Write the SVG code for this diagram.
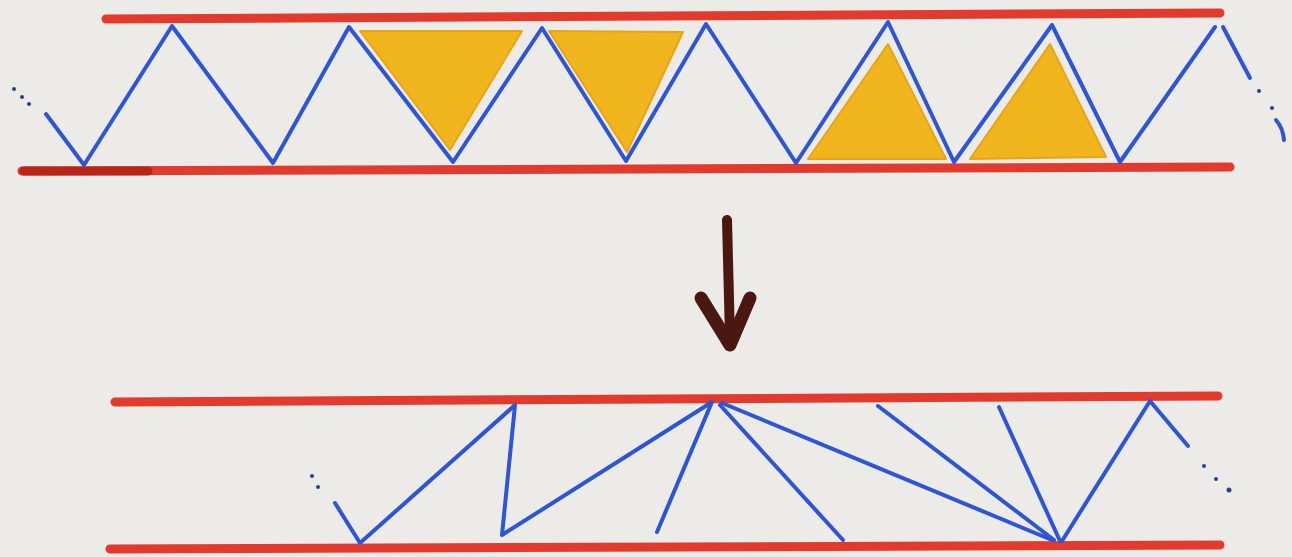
<svg xmlns="http://www.w3.org/2000/svg" width="1292" height="557" viewBox="0 0 1292 557">
<style>
.rail{stroke:#e23a2c;stroke-width:9;stroke-linecap:round;fill:none}
.truss{stroke:#2d55d9;stroke-width:4;stroke-linecap:round;stroke-linejoin:round;fill:none}
.dot{fill:#2a3f9a}
.fill{fill:#f0b51c;stroke:#e9a414;stroke-width:2;stroke-linejoin:round}
.arrow{stroke:#4a1810;stroke-linecap:round;stroke-linejoin:round;fill:none}
</style>
<rect width="1292" height="557" fill="#ecebe8"/>
<g id="top-band">
  <g id="top-fills">
    <polygon class="fill" points="360,31 522,31 450,150"/>
    <polygon class="fill" points="549,31 683,32 627,152"/>
    <polygon class="fill" points="888,44 946,159 808,159"/>
    <polygon class="fill" points="1050,44 1106,157 970,159"/>
  </g>
  <g id="top-rails">
    <line class="rail" x1="106" y1="19" x2="1220" y2="13"/>
    <line class="rail" x1="22" y1="171" x2="1230" y2="167"/>
    <line x1="24" y1="171" x2="148" y2="171" stroke="#b82519" stroke-width="9" stroke-linecap="round"/>
  </g>
  <g id="top-truss">
    <polyline class="truss" points="46,114 84,165 172,26 273,163 349,27 453,162 542,28 626,161 706,24 796,163 888,22 954,162 1052,25 1120,162 1215,27"/>
    <line class="truss" x1="1223" y1="27" x2="1250" y2="78"/>
    <circle class="dot" cx="14" cy="89" r="2"/>
    <circle class="dot" cx="22" cy="97" r="2"/>
    <circle class="dot" cx="29" cy="104" r="2"/>
    <circle class="dot" cx="1259" cy="91" r="2"/>
    <circle class="dot" cx="1272" cy="108" r="2"/>
    <path class="truss" d="M1276,120 Q1283,128 1284,140" stroke-width="3"/>
  </g>
</g>
<g id="arrow">
  <line class="arrow" x1="727" y1="220" x2="730" y2="338" stroke-width="10"/>
  <polyline class="arrow" points="701,298 730,345 750,298" stroke-width="13"/>
</g>
<g id="bottom-band">
  <g id="bottom-rails">
    <line class="rail" x1="115" y1="402" x2="1218" y2="396"/>
    <line class="rail" x1="110" y1="549" x2="1220" y2="545"/>
  </g>
  <g id="bottom-truss">
    <circle class="dot" cx="312" cy="476" r="2"/>
    <circle class="dot" cx="318" cy="487" r="2"/>
    <polyline class="truss" points="335,503 360,543 515,405 502,535 712,402 657,532"/>
    <line class="truss" x1="720" y1="405" x2="843" y2="540"/>
    <line class="truss" x1="722" y1="403" x2="1052" y2="540"/>
    <line class="truss" x1="878" y1="406" x2="1054" y2="540"/>
    <line class="truss" x1="999" y1="407" x2="1060" y2="541"/>
    <polyline class="truss" points="1062,541 1150,401 1188,446"/>
    <circle class="dot" cx="1204" cy="466" r="2"/>
    <circle class="dot" cx="1216" cy="479" r="2"/>
    <circle class="dot" cx="1229" cy="490" r="2.5"/>
  </g>
</g>
</svg>
